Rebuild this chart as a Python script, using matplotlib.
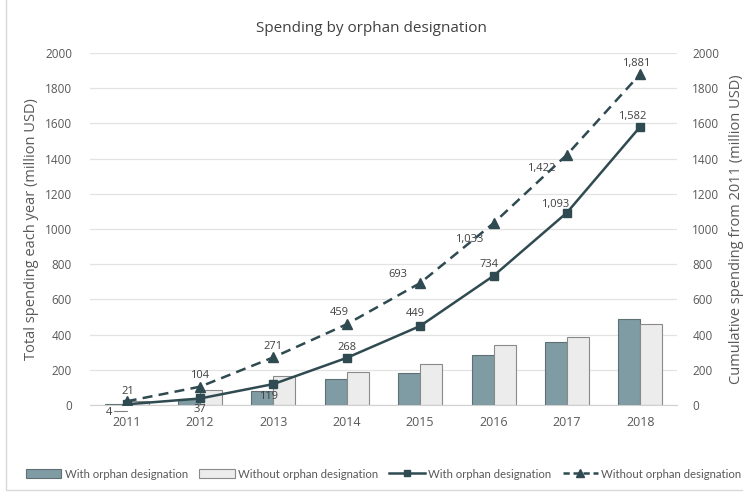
import matplotlib
matplotlib.use("Agg")
import matplotlib.pyplot as plt
from matplotlib.patches import Patch, Rectangle
from matplotlib.lines import Line2D

plt.rcParams['font.family'] = ['Open Sans', 'DejaVu Sans']

years = ['2011', '2012', '2013', '2014', '2015', '2016', '2017', '2018']
annual_with = [4, 33, 82, 149, 181, 285, 359, 489]
annual_without = [21, 83, 167, 188, 234, 340, 389, 459]
cum_with = [4, 37, 119, 268, 449, 734, 1093, 1582]
cum_without = [21, 104, 271, 459, 693, 1033, 1422, 1881]
cum_with_labels = ['4', '37', '119', '268', '449', '734', '1,093', '1,582']
cum_without_labels = ['21', '104', '271', '459', '693', '1,033', '1,422', '1,881']

# label offsets in pixels (dx, dy) relative to each point
with_offsets = [(-18, -8), (0, -11), (-5, -12), (0, 10), (-5, 12), (-4, 11), (-12, 8), (-8, 10)]
without_offsets = [(1, 10), (0, 11), (0, 11), (-7, 12), (-22, 9), (-24, -16), (-26, -14), (-4, 10)]

dark = '#2f4a50'
bar_dark = '#7f9ba3'
bar_light = '#ececec'
grey_text = '#595959'

fig = plt.figure(figsize=(7.43, 4.93), dpi=100)
fig.patches.append(Rectangle((6 / 743, 3 / 493), 1.2, 1.2, transform=fig.transFigure,
                             fill=False, edgecolor='#d9d9d9', linewidth=1.0))

ax = fig.add_axes([90 / 743, 1 - 405 / 493, 587 / 743, 352 / 493])
x = list(range(len(years)))
w = 0.3

ax.bar([i - w / 2 for i in x], annual_with, width=w, color=bar_dark,
       edgecolor='#5f6f73', linewidth=0.8, zorder=2)
ax.bar([i + w / 2 for i in x], annual_without, width=w, color=bar_light,
       edgecolor='#8a8a8a', linewidth=0.8, zorder=2)

ax.set_ylim(0, 2000)
ax.set_xlim(-0.5, len(years) - 0.5)
ax.set_yticks(range(0, 2001, 200))
ax.set_xticks(x)
ax.set_xticklabels(years)
ax.grid(axis='y', color='#e3e3e3', linewidth=0.9, zorder=0)
ax.set_axisbelow(True)
for s in ['top', 'left', 'right']:
    ax.spines[s].set_visible(False)
ax.spines['bottom'].set_color('#d0d0d0')
ax.tick_params(axis='x', length=0, pad=8, labelsize=9, labelcolor=grey_text)
ax.tick_params(axis='y', length=0, pad=13, labelsize=8.5, labelcolor=grey_text)
ax.set_ylabel('Total spending each year (million USD)', fontsize=10.5, color=grey_text, labelpad=4)

ax2 = ax.twinx()
ax2.set_ylim(0, 2000)
ax2.set_yticks(range(0, 2001, 200))
for s in ['top', 'left', 'right', 'bottom']:
    ax2.spines[s].set_visible(False)
ax2.tick_params(axis='y', length=0, pad=11, labelsize=8.5, labelcolor=grey_text)
ax2.set_ylabel('Cumulative spending from 2011 (million USD)', fontsize=10.5,
               color=grey_text, labelpad=7)

ax2.plot(x, cum_with, color=dark, linewidth=1.8, marker='s', markersize=6, zorder=4)
ax2.plot(x, cum_without, color=dark, linewidth=1.8, linestyle=(0, (4, 2.5)),
         marker='^', markersize=6.5, zorder=4)

for i, (v, t) in enumerate(zip(cum_with, cum_with_labels)):
    ax2.annotate(t, (i, v), xytext=with_offsets[i], textcoords='offset pixels',
                 ha='center', va='center', fontsize=8, color='#404040')
for i, (v, t) in enumerate(zip(cum_without, cum_without_labels)):
    ax2.annotate(t, (i, v), xytext=without_offsets[i], textcoords='offset pixels',
                 ha='center', va='center', fontsize=8, color='#404040')
# short leader line for the first small value
ax2.annotate('', xy=(0, 4), xytext=(-13, -7), textcoords='offset pixels',
             xycoords='data',
             arrowprops=dict(arrowstyle='-', color='#808080', linewidth=0.8,
                             shrinkA=0, shrinkB=5,
                             connectionstyle='angle,angleA=0,angleB=90,rad=0'))

fig.text(0.5, 1 - 29 / 493, 'Spending by orphan designation', ha='center', va='center',
         fontsize=11, color='#404040')

handles = [
    Patch(facecolor=bar_dark, edgecolor='#5f6f73', linewidth=0.8),
    Patch(facecolor=bar_light, edgecolor='#8a8a8a', linewidth=0.8),
    Line2D([], [], color=dark, linewidth=1.8, marker='s', markersize=5),
    Line2D([], [], color=dark, linewidth=1.8, linestyle=(0, (2.5, 1.5)), marker='^', markersize=5.5),
]
labels = ['With orphan designation', 'Without orphan designation',
          'With orphan designation', 'Without orphan designation']
fig.legend(handles, labels, loc='center left', bbox_to_anchor=(26 / 743, 1 - 474 / 493),
           ncol=4, frameon=False, labelcolor=grey_text,
           prop={'family': ['Lato', 'DejaVu Sans'], 'size': 8.2},
           handlelength=3.1, handleheight=0.8, handletextpad=0.3,
           columnspacing=1.0, borderaxespad=0, borderpad=0)

fig.savefig('out.png', dpi=100)
